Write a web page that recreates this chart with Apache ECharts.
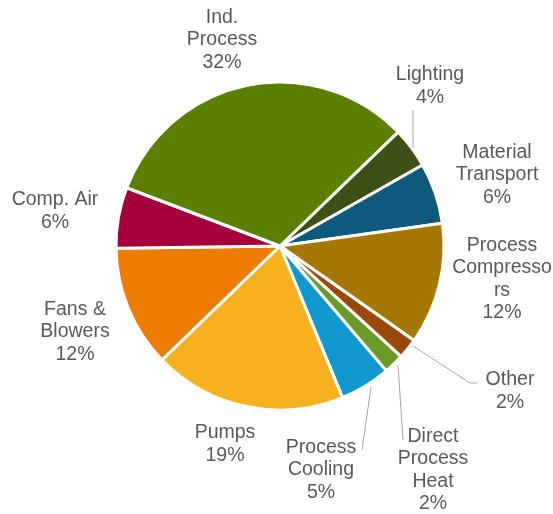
<!DOCTYPE html>
<html>
<head>
<meta charset="utf-8">
<style>
  html, body { margin: 0; padding: 0; background: #fff; }
  #chart { width: 553px; height: 514px; }
</style>
<script src="https://cdn.jsdelivr.net/npm/echarts@6/dist/echarts.min.js"></script>
</head>
<body>
<div id="chart"></div>
<script>
// Industrial electricity end use shares (%)
const categories = ['Lighting', 'Material Transport', 'Process Compressors', 'Other',
  'Direct Process Heat', 'Process Cooling', 'Pumps', 'Fans & Blowers', 'Comp. Air', 'Ind. Process'];
const shares = [4, 6, 12, 2, 2, 5, 19, 12, 6, 32];
// Wrapped label text for each category
const labelNames = ['Lighting', 'Material\nTransport', 'Process\nCompresso\nrs', 'Other',
  'Direct\nProcess\nHeat', 'Process\nCooling', 'Pumps', 'Fans &\nBlowers', 'Comp. Air', 'Ind.\nProcess'];

const colors = ['#3d5116', '#0d5a7d', '#a67700', '#9a4a06', '#6a9a2a',
  '#1098cf', '#f8b11e', '#ee7c02', '#a5003b', '#5b8000'];

// Pie geometry (px)
const CENTER = [280, 246];
const RADIUS = 164;

// Label centre offsets from the pie centre, and leader lines (same frame)
const labelOffsets = [
  [150, -160], [217, -71], [222, 33], [230, 145], [153, 224],
  [41, 224], [-55, 198], [-205, 86], [-225, -35], [-58, -206]
];
const leaderLines = {
  0: [[133, -98], [133, -136]],
  3: [[133, 100], [190, 137], [197, 137]],
  4: [[118, 119], [123, 194]],
  5: [[91, 141], [82, 204]]
};

const chart = echarts.init(document.getElementById('chart'));

const data = categories.map((name, i) => ({
  name: name,
  value: shares[i],
  itemStyle: { color: colors[i] },
  labelLine: { show: leaderLines[i] !== undefined }
}));

chart.setOption({
  backgroundColor: '#ffffff',
  animation: false,
  series: [{
    type: 'pie',
    center: CENTER,
    radius: RADIUS,
    startAngle: 44,
    clockwise: true,
    avoidLabelOverlap: false,
    data: data,
    itemStyle: { borderColor: '#ffffff', borderWidth: 3 },
    label: {
      show: true,
      position: 'outside',
      formatter: p => labelNames[p.dataIndex] + '\n' + p.value + '%',
      fontFamily: 'Liberation Sans, Arial, sans-serif',
      fontSize: 19.5,
      lineHeight: 22.5,
      color: '#595959',
      align: 'center'
    },
    labelLine: {
      show: true,
      lineStyle: { color: '#a6a6a6', width: 1 }
    },
    emphasis: { disabled: true },
    labelLayout: function (params) {
      const i = params.dataIndex;
      const off = labelOffsets[i];
      const res = {
        x: CENTER[0] + off[0],
        y: CENTER[1] + off[1],
        align: 'center',
        verticalAlign: 'middle'
      };
      if (leaderLines[i]) {
        res.labelLinePoints = leaderLines[i].map(pt => [CENTER[0] + pt[0], CENTER[1] + pt[1]]);
      }
      return res;
    }
  }]
});
</script>
</body>
</html>
